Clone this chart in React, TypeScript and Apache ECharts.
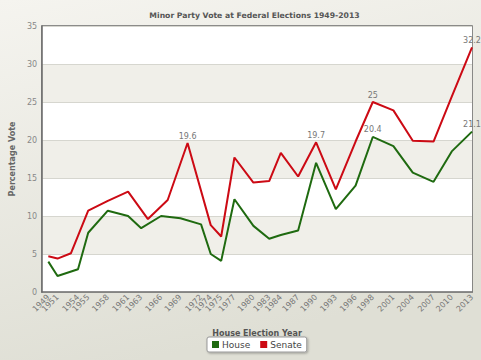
import React, { useEffect, useRef } from 'react';
import * as echarts from 'echarts';

const houseDates = ['1949-12-10', '1951-04-28', '1954-05-29', '1955-12-10', '1958-11-22', '1961-12-09', '1963-11-30', '1966-11-26', '1969-10-25', '1972-12-02', '1974-05-18', '1975-12-13', '1977-12-10', '1980-10-18', '1983-03-05', '1984-12-01', '1987-07-11', '1990-03-24', '1993-03-13', '1996-03-02', '1998-10-03', '2001-11-10', '2004-10-09', '2007-11-24', '2010-08-21', '2013-09-07'];
const houseValues = [4.0, 2.1, 3.0, 7.8, 10.7, 10.0, 8.4, 10.0, 9.7, 8.9, 5.0, 4.1, 12.2, 8.7, 7.0, 7.5, 8.1, 17.0, 10.9, 14.0, 20.4, 19.2, 15.7, 14.5, 18.5, 21.1];

const senateDates = ['1949-12-10', '1951-04-28', '1953-05-09', '1955-12-10', '1958-11-22', '1961-12-09', '1964-12-05', '1967-11-25', '1970-11-21', '1974-05-18', '1975-12-13', '1977-12-10', '1980-10-18', '1983-03-05', '1984-12-01', '1987-07-11', '1990-03-24', '1993-03-13', '1996-03-02', '1998-10-03', '2001-11-10', '2004-10-09', '2007-11-24', '2010-08-21', '2013-09-07'];
const senateValues = [4.7, 4.4, 5.1, 10.7, 12.0, 13.2, 9.6, 12.1, 19.6, 8.8, 7.3, 17.7, 14.4, 14.6, 18.3, 15.2, 19.7, 13.5, 19.8, 25, 23.9, 19.9, 19.8, 25.7, 32.2];

const houseLabelled = ['1998-10-03', '2013-09-07'];
const senateLabelled = ['1970-11-21', '1990-03-24', '1998-10-03', '2013-09-07'];

const titleText = 'Minor Party Vote at Federal Elections 1949-2013';
const xName = 'House Election Year';
const yName = 'Percentage Vote';

function toYear(d: string): number {
  const [y, m, dd] = d.split('-').map(Number);
  const start = Date.UTC(y, 0, 1);
  const end = Date.UTC(y + 1, 0, 1);
  return y + (Date.UTC(y, m - 1, dd) - start) / (end - start);
}

export default function App() {
  const ref = useRef<HTMLDivElement>(null);
  useEffect(() => {
    document.body.style.margin = '0';
    const chart = echarts.init(ref.current!, null, { renderer: 'svg' });
    const font = 'DejaVu Sans';
    const labelStyle = { show: true, position: 'top', fontSize: 8, color: '#777', fontFamily: font, distance: 3 };
    const tickVals = houseDates.map(toYear);
    const tickLabel = new Map<number, string>();
    houseDates.forEach((d, i) => tickLabel.set(tickVals[i], d.slice(0, 4)));
    const xMin = Math.floor(toYear(houseDates[0]));
    const xMax = toYear(houseDates[houseDates.length - 1]);

    chart.setOption({
      animation: false,
      backgroundColor: new echarts.graphic.LinearGradient(0, 0, 0.3, 1, [
        { offset: 0, color: '#f5f4ef' },
        { offset: 1, color: '#dfdfd5' },
      ]),
      textStyle: { fontFamily: font },
      graphic: [
        {
          type: 'text',
          x: 254.5,
          y: 15,
          style: { text: titleText, align: 'center', verticalAlign: 'middle', font: 'bold 7.7px "DejaVu Sans"', fill: '#555' },
        },
      ],
      legend: {
        left: 207,
        top: 337,
        backgroundColor: '#fff',
        borderColor: '#999',
        borderWidth: 1,
        borderRadius: 2,
        padding: [3, 5],
        itemWidth: 7,
        itemHeight: 7,
        itemGap: 10,
        icon: 'rect',
        shadowBlur: 2,
        shadowColor: 'rgba(0,0,0,0.3)',
        shadowOffsetX: 1,
        shadowOffsetY: 1,
        textStyle: { fontSize: 9, color: '#444', fontFamily: font, padding: [0, 0, 0, -2] },
        data: ['House', 'Senate'],
      },
      grid: {
        left: 37,
        right: 9,
        top: 26,
        bottom: 68,
        show: true,
        backgroundColor: '#fff',
        borderColor: '#6a6a6a',
        borderWidth: 1.5,
      },
      xAxis: {
        type: 'value',
        min: xMin,
        max: xMax,
        name: xName,
        nameLocation: 'middle',
        nameGap: 37,
        nameTextStyle: { fontWeight: 'bold', fontSize: 8, color: '#555', fontFamily: font },
        axisLine: { show: true, lineStyle: { color: '#6a6a6a', width: 1.5 } },
        axisTick: { show: false },
        splitLine: { show: false },
        axisLabel: {
          customValues: [xMin, ...tickVals],
          hideOverlap: false,
          rotate: 45,
          margin: 4,
          fontSize: 8,
          color: '#777',
          fontFamily: font,
          formatter: (v: number) => tickLabel.get(v) ?? '',
        },
      },
      yAxis: {
        type: 'value',
        min: 0,
        max: 35,
        interval: 5,
        name: yName,
        nameLocation: 'middle',
        nameGap: 22,
        nameTextStyle: { fontWeight: 'bold', fontSize: 8, color: '#666', fontFamily: font },
        axisLine: { show: true, lineStyle: { color: '#6a6a6a', width: 1.5 } },
        axisTick: { show: false },
        axisLabel: { fontSize: 8, color: '#888', margin: 5, fontFamily: font },
        splitLine: { show: true, lineStyle: { color: '#d6d6cf', width: 1 } },
        splitArea: { show: true, areaStyle: { color: ['#ffffff', '#f0efe9'] } },
      },
      series: [
        {
          name: 'House',
          type: 'line',
          showSymbol: true,
          symbol: 'circle',
          symbolSize: 0,
          color: '#1f6a10',
          lineStyle: { color: '#1f6a10', width: 2 },
          data: houseDates.map((d, i) => ({
            value: [toYear(d), houseValues[i]],
            label: houseLabelled.includes(d) ? labelStyle : { show: false },
          })),
        },
        {
          name: 'Senate',
          type: 'line',
          showSymbol: true,
          symbol: 'circle',
          symbolSize: 0,
          color: '#cc0a14',
          lineStyle: { color: '#cc0a14', width: 2 },
          data: senateDates.map((d, i) => ({
            value: [toYear(d), senateValues[i]],
            label: senateLabelled.includes(d) ? labelStyle : { show: false },
          })),
        },
      ],
    });
    return () => chart.dispose();
  }, []);
  return <div ref={ref} style={{ width: 481, height: 360, position: 'absolute', left: 0, top: 0 }} />;
}
